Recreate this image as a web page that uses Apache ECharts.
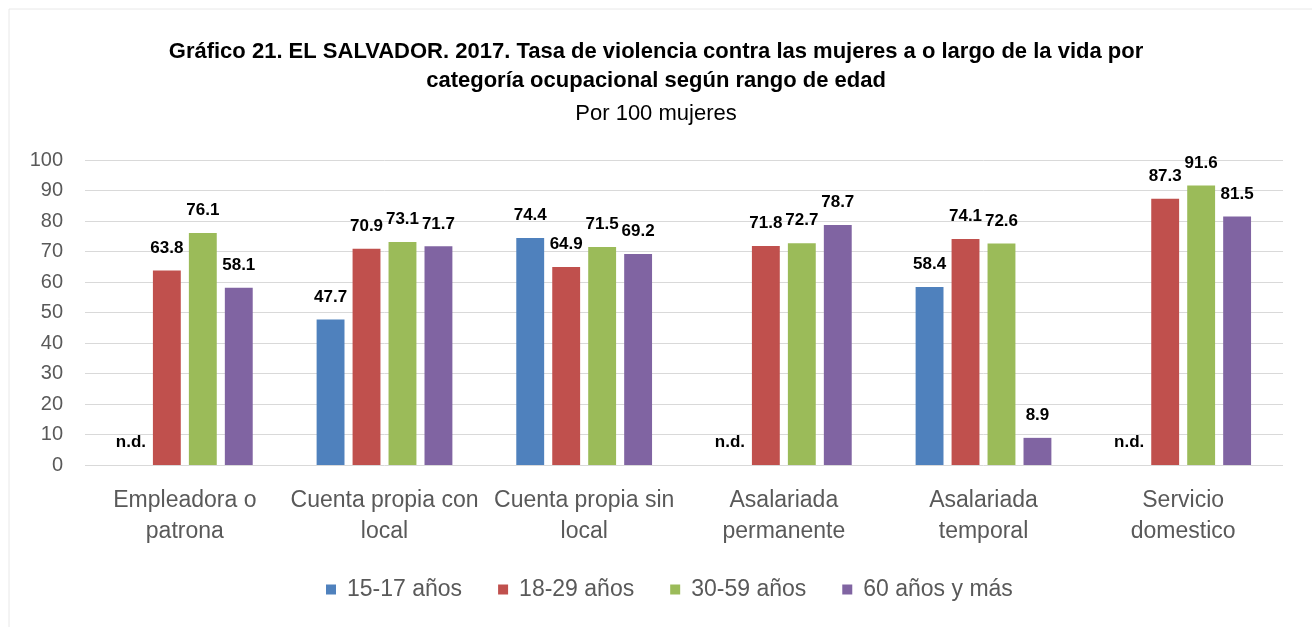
<!DOCTYPE html>
<html>
<head>
<meta charset="utf-8">
<script src="https://cdn.jsdelivr.net/npm/echarts@6/dist/echarts.min.js"></script>
<style>
    html, body { margin: 0; padding: 0; background: #fff; }
    #chart { width: 1312px; height: 627px; }
</style>
</head>
<body>
<div id="chart"></div>
<script>
    const categories = [
        "Empleadora o\npatrona",
        "Cuenta propia con\nlocal",
        "Cuenta propia sin\nlocal",
        "Asalariada\npermanente",
        "Asalariada\ntemporal",
        "Servicio\ndomestico",
    ];
    const seriesNames = ["15-17 años", "18-29 años", "30-59 años", "60 años y más"];
    // null = n.d. (sin dato)
    const edad15a17 = [null, 47.7, 74.4, null, 58.4, null];
    const edad18a29 = [63.8, 70.9, 64.9, 71.8, 74.1, 87.3];
    const edad30a59 = [76.1, 73.1, 71.5, 72.7, 72.6, 91.6];
    const edad60mas = [58.1, 71.7, 69.2, 78.7, 8.9, 81.5];
    const yTicks = [0, 10, 20, 30, 40, 50, 60, 70, 80, 90, 100];

    const colors = ["#4F81BD", "#C0504D", "#9BBB59", "#8064A2"];
    const font = "Liberation Sans";

    function toBarData(values) {
        return values.map((v) =>
            v === null
                ? { value: 0, label: { formatter: "n.d." } }
                : v
        );
    }

    const myChart = echarts.init(document.getElementById("chart"));
    const option = {
        backgroundColor: "#fff",
        textStyle: { fontFamily: font },
        graphic: [
            {
                type: "rect",
                shape: { x: 9, y: 9, width: 1320, height: 640 },
                style: { fill: "none", stroke: "#e8e8e8", lineWidth: 1 },
                silent: true,
            },
        ],
        title: [
            {
                text: "Gráfico 21. EL SALVADOR. 2017. Tasa de violencia contra las mujeres a o largo de la vida por\ncategoría ocupacional según rango de edad",
                left: "center",
                top: 32,
                textStyle: {
                    fontFamily: font,
                    fontSize: 22,
                    fontWeight: "bold",
                    color: "#000",
                    lineHeight: 29,
                    align: "center",
                },
            },
            {
                text: "Por 100 mujeres",
                left: "center",
                top: 98,
                textStyle: {
                    fontFamily: font,
                    fontSize: 22,
                    fontWeight: "normal",
                    color: "#000",
                },
            },
        ],
        legend: {
            bottom: 21,
            left: 321,
            icon: "rect",
            itemWidth: 10,
            itemHeight: 10,
            itemGap: 36,
            textStyle: {
                fontFamily: font,
                fontSize: 23,
                color: "#595959",
                padding: [0, 0, 0, 6],
            },
            data: seriesNames,
        },
        grid: {
            top: 160,
            bottom: 162,
            left: 85,
            right: 29,
        },
        xAxis: {
            type: "category",
            data: categories,
            axisLine: { show: false },
            axisTick: { show: false },
            axisLabel: {
                fontFamily: font,
                fontSize: 23,
                color: "#595959",
                lineHeight: 31,
                margin: 20,
                interval: 0,
            },
        },
        yAxis: {
            type: "value",
            min: yTicks[0],
            max: yTicks[yTicks.length - 1],
            interval: yTicks[1] - yTicks[0],
            axisLine: { show: false },
            axisTick: { show: false },
            axisLabel: {
                fontFamily: font,
                fontSize: 20,
                color: "#595959",
                margin: 22,
            },
            splitLine: { lineStyle: { color: "#d9d9d9", width: 1 } },
        },
        series: [edad15a17, edad18a29, edad30a59, edad60mas].map((vals, i) => ({
            name: seriesNames[i],
            type: "bar",
            data: toBarData(vals),
            barGap: "29%",
            barCategoryGap: "32%",
            itemStyle: { color: colors[i] },
            label: {
                show: true,
                position: "top",
                distance: 14,
                fontFamily: font,
                fontSize: 17,
                fontWeight: "bold",
                color: "#000",
            },
        })),
    };
    myChart.setOption(option);
</script>
</body>
</html>
